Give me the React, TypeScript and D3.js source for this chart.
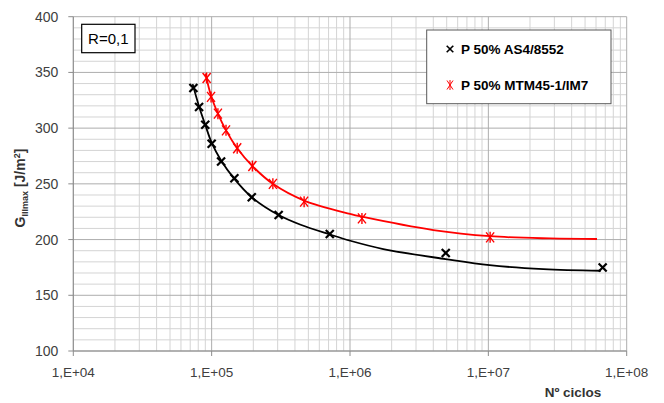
import React from "react";
import * as d3 from "d3";

// ---- data ----
const seriesNames = ["P 50% AS4/8552", "P 50% MTM45-1/IM7"];

// AS4/8552 (black) test points
const blackN = [7.38e4, 8.11e4, 8.99e4, 1.0e5, 1.17e5, 1.46e5, 1.95e5, 3.05e5, 7.14e5, 4.92e6, 6.7e7];
const blackG = [336, 319, 303, 286, 270, 255, 238, 222, 205, 188, 175];

// MTM45-1/IM7 (red) test points
const redN = [9.2e4, 9.9e4, 1.11e5, 1.27e5, 1.53e5, 1.97e5, 2.77e5, 4.66e5, 1.22e6, 1.03e7];
const redG = [345, 328, 313, 298, 282, 266, 250, 234, 219, 202];

// fitted curves
const blackFitN = [7.29e4, 8.11e4, 8.99e4, 1.0e5, 1.17e5, 1.46e5, 1.95e5, 3.05e5, 4.35e5, 7.18e5, 1.0e6, 1.74e6, 4.9e6, 1.02e7, 2.5e7, 6.5e7];
const blackFitG = [339.5, 319.5, 303, 287, 271, 254.5, 238, 222, 213.5, 204.5, 199, 191.5, 182.5, 177, 173.5, 172];

const redFitN = [9.02e4, 9.9e4, 1.11e5, 1.27e5, 1.53e5, 1.97e5, 2.77e5, 4.66e5, 1.0e6, 1.22e6, 4.0e6, 1.03e7, 2.8e7, 6.1e7];
const redFitG = [349, 329, 313, 298, 282, 266, 250, 235, 223, 220.5, 208.5, 203, 201, 200.5];

const xTickValues = [1e4, 1e5, 1e6, 1e7, 1e8];
const xTickLabels = ["1,E+04", "1,E+05", "1,E+06", "1,E+07", "1,E+08"];
const yTickValues = [100, 150, 200, 250, 300, 350, 400];

const FONT = "'Liberation Sans', Arial, sans-serif";

function BlackX({ cx, cy, s = 4, w = 2.2 }: { cx: number; cy: number; s?: number; w?: number }) {
  return (
    <g stroke="#000" strokeWidth={w} strokeLinecap="butt">
      <line x1={cx - s} y1={cy - s} x2={cx + s} y2={cy + s} />
      <line x1={cx - s} y1={cy + s} x2={cx + s} y2={cy - s} />
    </g>
  );
}

function RedStar({ cx, cy, sx = 4, sy = 5, w = 1.4 }: { cx: number; cy: number; sx?: number; sy?: number; w?: number }) {
  return (
    <g stroke="#ff0000" strokeWidth={w}>
      <line x1={cx - sx} y1={cy - sy} x2={cx + sx} y2={cy + sy} />
      <line x1={cx - sx} y1={cy + sy} x2={cx + sx} y2={cy - sy} />
      <line x1={cx} y1={cy - sy - 0.5} x2={cx} y2={cy + sy + 0.5} />
    </g>
  );
}

export default function App() {
  const W = 664, H = 403;
  const left = 73.3, right = 626.7, top = 16.7, bottom = 351;
  const x = d3.scaleLog().domain([1e4, 1e8]).range([left, right]);
  const y = d3.scaleLinear().domain([100, 400]).range([bottom, top]);

  const line = d3
    .line<[number, number]>()
    .x((d) => x(d[0]))
    .y((d) => y(d[1]))
    .curve(d3.curveCatmullRom.alpha(0.5));

  const blackFit = blackFitN.map((n, i) => [n, blackFitG[i]] as [number, number]);
  const redFit = redFitN.map((n, i) => [n, redFitG[i]] as [number, number]);

  // grid values
  const minorX: number[] = [];
  for (let k = 4; k < 8; k++) for (let m = 2; m <= 9; m++) minorX.push(m * Math.pow(10, k));
  const yGrid = d3.range(100, 401, 10);

  return (
    <div style={{ position: "fixed", left: 0, top: 0 }}>
      <svg width={W} height={H} style={{ display: "block", background: "#fff" }} fontFamily={FONT}>
        {/* minor grid */}
        {minorX.map((v) => (
          <line key={"mx" + v} x1={x(v)} x2={x(v)} y1={top} y2={bottom} stroke="#d4d4d4" strokeWidth={1} />
        ))}
        {yGrid.filter((v) => v % 50 !== 0).map((v) => (
          <line key={"my" + v} x1={left} x2={right} y1={y(v)} y2={y(v)} stroke="#d4d4d4" strokeWidth={1} />
        ))}
        {/* major grid */}
        {xTickValues.map((v) => (
          <line key={"Mx" + v} x1={x(v)} x2={x(v)} y1={top} y2={bottom} stroke="#adadad" strokeWidth={1} />
        ))}
        {yTickValues.map((v) => (
          <line key={"My" + v} x1={left} x2={right} y1={y(v)} y2={y(v)} stroke="#adadad" strokeWidth={1} />
        ))}
        {/* axes */}
        <line x1={left} x2={left} y1={top} y2={bottom} stroke="#8c8c8c" />
        <line x1={left} x2={right} y1={bottom} y2={bottom} stroke="#8c8c8c" />
        {yTickValues.map((v) => (
          <line key={"yt" + v} x1={left - 5} x2={left} y1={y(v)} y2={y(v)} stroke="#8c8c8c" />
        ))}
        {xTickValues.map((v) => (
          <line key={"xt" + v} x1={x(v)} x2={x(v)} y1={bottom} y2={bottom + 5} stroke="#8c8c8c" />
        ))}
        {/* tick labels */}
        {yTickValues.map((v) => (
          <text key={"yl" + v} x={left - 15} y={y(v)} dy="0.36em" textAnchor="end" fontSize={14} fill="#404040">
            {v}
          </text>
        ))}
        {xTickValues.map((v, i) => (
          <text key={"xl" + v} x={x(v)} y={377} textAnchor="middle" fontSize={13.5} fill="#404040">
            {xTickLabels[i]}
          </text>
        ))}
        {/* axis titles */}
        <text x={573} y={397} textAnchor="middle" fontSize={13.5} fontWeight="bold" fill="#333">
          Nº ciclos
        </text>
        <text transform="translate(25,188) rotate(-90)" textAnchor="middle" fontSize={14} fontWeight="bold" fill="#333">
          G<tspan fontSize={9} dy={3}>IIImax</tspan>
          <tspan dy={-3}> [J/m</tspan>
          <tspan fontSize={9} dy={-5}>2</tspan>
          <tspan dy={5}>]</tspan>
        </text>

        {/* fit curves */}
        <path d={line(blackFit) || ""} fill="none" stroke="#000" strokeWidth={1.8} />
        <path d={line(redFit) || ""} fill="none" stroke="#ff0000" strokeWidth={1.8} />

        {/* points */}
        {blackN.map((n, i) => (
          <BlackX key={"b" + i} cx={x(n)} cy={y(blackG[i])} />
        ))}
        {redN.map((n, i) => (
          <RedStar key={"r" + i} cx={x(n)} cy={y(redG[i])} />
        ))}

        {/* R box */}
        <rect x={81.7} y={24.3} width={53.3} height={28.4} fill="#fff" stroke="#000" strokeWidth={1.2} />
        <text x={108.3} y={38.5} dy="0.36em" textAnchor="middle" fontSize={15} fill="#000">
          R=0,1
        </text>

        {/* legend */}
        <rect x={426.7} y={30} width={184.3} height={73.7} fill="#fff" stroke="#595959" strokeWidth={1} />
        <BlackX cx={450} cy={49} s={3.3} w={1.6} />
        <text x={461} y={53.5} fontSize={13.5} fontWeight="bold" fill="#000">
          {seriesNames[0]}
        </text>
        <RedStar cx={450} cy={85} sx={3} sy={4.5} w={1} />
        <text x={461} y={89.5} fontSize={13.5} fontWeight="bold" fill="#000">
          {seriesNames[1]}
        </text>
      </svg>
    </div>
  );
}
